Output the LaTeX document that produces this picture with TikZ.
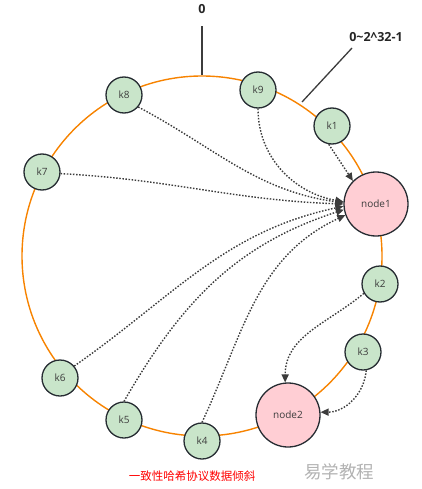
\documentclass[tikz,border=0pt]{standalone}
\usepackage{fontspec}
\setmainfont{Open Sans}
\newfontfamily\cjk{Noto Sans CJK SC}
\usetikzlibrary{arrows.meta}
\definecolor{ringorange}{RGB}{247,131,0}
\definecolor{keygreen}{RGB}{201,229,202}
\definecolor{srvpink}{RGB}{255,206,212}
\definecolor{edge}{RGB}{38,44,50}
\definecolor{ink}{RGB}{60,60,60}
\begin{document}
\begin{tikzpicture}[x=1pt,y=-1pt,
  keynode/.style={circle,draw=edge,line width=1.3pt,fill=keygreen,minimum size=36pt,inner sep=0pt,text=ink,font=\fontsize{10}{12}\selectfont},
  srvnode/.style={circle,draw=edge,line width=1.3pt,fill=srvpink,minimum size=64pt,inner sep=0pt,text=ink,font=\fontsize{10}{12}\selectfont},
  hashto/.style={dash pattern=on 1.5pt off 1.6pt,line width=1.4pt,draw=ink,-{Triangle[length=8pt,width=7pt]}},
  marker/.style={line width=1.3pt,draw=ink},
  mlabel/.style={font=\bfseries\fontsize{12.5}{15}\selectfont,text=black!85}]
\useasboundingbox (0,0) rectangle (422,489);
\draw[ringorange,line width=1.4pt] (202,256) circle (180);

\coordinate (z0) at (202,75);
\coordinate (z0top) at (202,26);
\node[mlabel] (lbl0) at (202,9) {0};
\draw[marker] (z0) -- (z0top);
\coordinate (zmax) at (302,102);
\coordinate (zmaxtop) at (352,48);
\node[mlabel] (lblmax) at (376,37) {0\textasciitilde2\textasciicircum32-1};
\draw[marker] (zmax) -- (zmaxtop);

\foreach \n/\x/\y in {k1/332/126,k2/380/284,k3/363/352,k4/202/441,k5/124/420,k6/60/378,k7/42/172,k8/124/95,k9/258/90}{
  \node[keynode] (\n) at (\x,\y) {\n};
}
\node[srvnode] (node1) at (376,204) {node1};
\node[srvnode] (node2) at (288,415) {node2};

\draw[hashto] (k1.-100) -- (node1.135);
\draw[hashto] (k9.-90) to[out=-90,in=170] (node1.176);
\draw[hashto] (k8.-40) to[out=-28,in=172] (node1.178);
\draw[hashto] (k7.-5) to[out=-3,in=178] (node1.180);
\draw[hashto] (k6.40) to[out=35,in=192] (node1.184);
\draw[hashto] (k5.90) to[out=60,in=198] (node1.190);
\draw[hashto] (k4.90) to[out=65,in=205] (node1.200);
\draw[hashto] (k2.210) to[out=220,in=90] (node2.95);
\draw[hashto] (k3.-80) to[out=-95,in=0] (node2.5);

\node[text=red,font=\cjk\fontsize{11.5}{14}\selectfont] (caption) at (192,476) {一致性哈希协议数据倾斜};
\node[text=black!30,font=\cjk\fontsize{17.5}{21}\selectfont] (mark) at (339,472) {易学教程};
\end{tikzpicture}
\end{document}
